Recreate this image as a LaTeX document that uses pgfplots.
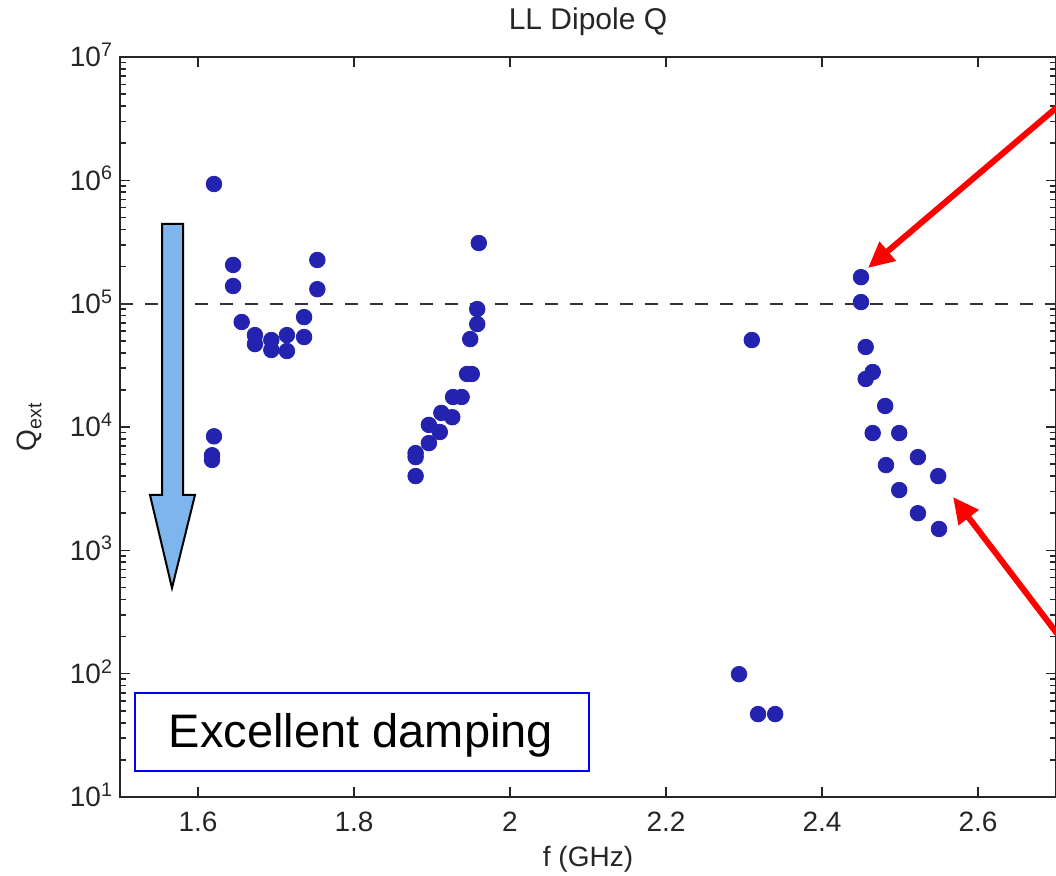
\documentclass[border=0pt]{standalone}
\usepackage{pgfplots}
\pgfplotsset{compat=1.18}
\usepackage{fontspec}
\setmainfont{Liberation Sans}
\usetikzlibrary{arrows.meta}
\definecolor{dotblue}{RGB}{35,35,175}
\definecolor{arrowblue}{RGB}{126,181,236}
\begin{document}
\begin{tikzpicture}
\useasboundingbox (0,0) rectangle (528pt,438pt);
\begin{axis}[
  at={(60pt,39.5pt)}, anchor=south west,
  scale only axis, width=468pt, height=370pt,
  xmin=1.5, xmax=2.7, ymode=log, ymin=10, ymax=1e7,
  /pgf/number format/assume math mode=true,
  axis line style={black!85, line width=0.9pt},
  tick style={black!85, line width=0.8pt},
  major tick length=5pt, minor tick length=3pt,
  xtick={1.6,1.8,2,2.2,2.4,2.6},
  xticklabels={1.6,1.8,2,2.2,2.4,2.6},
  ytick={10,100,1000,10000,100000,1000000,10000000},
  yticklabels={10\textsuperscript{1},10\textsuperscript{2},10\textsuperscript{3},10\textsuperscript{4},10\textsuperscript{5},10\textsuperscript{6},10\textsuperscript{7}},
  minor ytick={20,30,40,50,60,70,80,90,200,300,400,500,600,700,800,900,2000,3000,4000,5000,6000,7000,8000,9000,20000,30000,40000,50000,60000,70000,80000,90000,200000,300000,400000,500000,600000,700000,800000,900000,2000000,3000000,4000000,5000000,6000000,7000000,8000000,9000000},
  tick label style={font=\fontsize{14}{16}\selectfont, text=black!85},
  xticklabel style={anchor=base, yshift=-17.5pt},
  yticklabel style={anchor=base east, yshift=-5pt},
  title={LL Dipole Q},
  title style={font=\fontsize{15}{18}\selectfont, text=black!85, at={(0.5,1)}, anchor=base, yshift=7.5pt},
  xlabel={f (GHz)},
  xlabel style={font=\fontsize{14}{16}\selectfont, text=black!85, at={(axis description cs:0.5,0)}, anchor=base, yshift=-35pt},
  ylabel={Q\textsubscript{ext}},
  ylabel style={font=\fontsize{14}{16}\selectfont, text=black!85, at={(axis description cs:-0.0887,0.5)}, anchor=base},
  clip=false,
]
\addplot[black!80, line width=0.9pt, dash pattern=on 6.5pt off 6pt, forget plot] coordinates {(1.5,1e5) (2.7,1e5)};
\addplot[only marks, mark=*, mark size=3.9pt, color=dotblue] table {
x y
1.6205 933000
1.6205 8400
1.618 5900
1.618 5400
1.645 206000
1.645 139000
1.656 71000
1.673 55600
1.673 47000
1.694 50700
1.694 42100
1.714 55600
1.714 41300
1.736 77800
1.736 53600
1.753 226000
1.753 131000
1.960 310000
1.958 90400
1.958 68300
1.949 51600
1.945 26900
1.951 26900
1.927 17500
1.938 17500
1.912 13000
1.926 12000
1.896 10400
1.910 9100
1.896 7400
1.879 6140
1.879 5700
1.879 4000
2.310 50700
2.2936 99
2.318 47
2.340 47
2.450 164000
2.450 103000
2.456 44500
2.465 27900
2.456 24500
2.481 14800
2.465 8930
2.499 8930
2.523 5700
2.482 4910
2.549 4000
2.499 3080
2.523 2000
2.550 1490
};
\end{axis}
\begin{scope}[shift={(0,438pt)}, x=0.5pt, y=-0.5pt]
  \draw[black, line width=1pt, fill=arrowblue] (162,224) -- (183,224) -- (183,495) -- (195,495) -- (172,588) -- (150,495) -- (162,495) -- cycle;
  \draw[blue, line width=1pt] (135,693) rectangle (589,771);
  \node[anchor=base, font=\fontsize{23.5}{28}\selectfont, inner sep=0pt] at (361,748) {Excellent damping};
  \draw[red, line width=3pt, -{Triangle[length=13pt,width=12pt]}] (1062,103) -- (868,268);
  \draw[red, line width=3pt, -{Triangle[length=13pt,width=12pt]}] (1062,640) -- (953,497);
\end{scope}
\end{tikzpicture}
\end{document}
